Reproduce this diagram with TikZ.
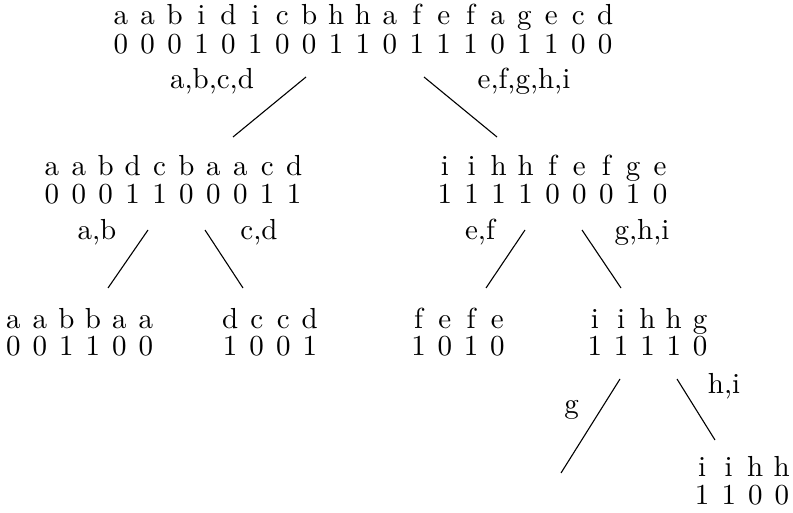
\documentclass[tikz,border=0pt]{standalone}
\usepackage{graphicx}
\newlength\cw
\def\mkrow#1{\mkrowi#1\relax}
\def\mkrowi#1{\ifx\relax#1\else\makebox[\cw]{#1}\expandafter\mkrowi\fi}
\newcommand\sz{2.9}
\newcommand\seqbox[4][9.5pt]{\scalebox{\sz}{\setlength\cw{#2}\vtop{\lineskiplimit=-50pt\baselineskip=#1\hbox{\mkrow{#3}}\hbox{\mkrow{#4}}}}}
\newcommand\lab[1]{\scalebox{\sz}{#1}}
\begin{document}
\begin{tikzpicture}[x=1pt,y=-1pt,
  every node/.style={font=\fontsize{10}{12}\selectfont,inner sep=0pt,anchor=base},
  seq/.style={},
  lbl/.style={},
  edge/.style={line width=1.1pt}]
\useasboundingbox (0,0) rectangle (793,513);
% sequence nodes
\node[seq] (root) at (363,24.5) {\seqbox[10pt]{9.28pt}{aabidicbhhafefagecd}{0001010011011101100}};
\node[seq] (L) at (173,176) {\seqbox{9.28pt}{aabdcbaacd}{0001100011}};
\node[seq] (R) at (552.5,176) {\seqbox{9.28pt}{iihhfefge}{111100010}};
\node[seq] (LL) at (79.7,328) {\seqbox{9.14pt}{aabbaa}{001100}};
\node[seq] (LR) at (270,328) {\seqbox{9.14pt}{dccd}{1001}};
\node[seq] (RL) at (458,328) {\seqbox{9.05pt}{fefe}{1010}};
\node[seq] (RR) at (647.5,328) {\seqbox{9.07pt}{iihhg}{11110}};
\node[seq] (RRR) at (742,476) {\seqbox[9.8pt]{9.14pt}{iihh}{1100}};
% labels
\node[lbl] (l1) at (212,89) {\lab{a,b,c,d}};
\node[lbl] (l2) at (524,89) {\lab{e,f,g,h,i}};
\node[lbl] (l3) at (97,240) {\lab{a,b}};
\node[lbl] (l4) at (259,240) {\lab{c,d}};
\node[lbl] (l5) at (480,240) {\lab{e,f}};
\node[lbl] (l6) at (642,240) {\lab{g,h,i}};
\node[lbl] (l7) at (571.5,413) {\lab{g}};
\node[lbl] (l8) at (724,393) {\lab{h,i}};
% connector end points
\coordinate (a1) at (306,77);  \coordinate (b1) at (233,137);
\coordinate (a2) at (424,77);  \coordinate (b2) at (497,137);
\coordinate (a3) at (148,230); \coordinate (b3) at (108,288);
\coordinate (a4) at (205,230); \coordinate (b4) at (243,288);
\coordinate (a5) at (525,230); \coordinate (b5) at (486,288);
\coordinate (a6) at (582,230); \coordinate (b6) at (621,288);
\coordinate (a7) at (620,379); \coordinate (b7) at (561,473);
\coordinate (a8) at (677,379); \coordinate (b8) at (715,440);
\foreach \i in {1,...,8} \draw[edge] (a\i) -- (b\i);
\end{tikzpicture}
\end{document}
